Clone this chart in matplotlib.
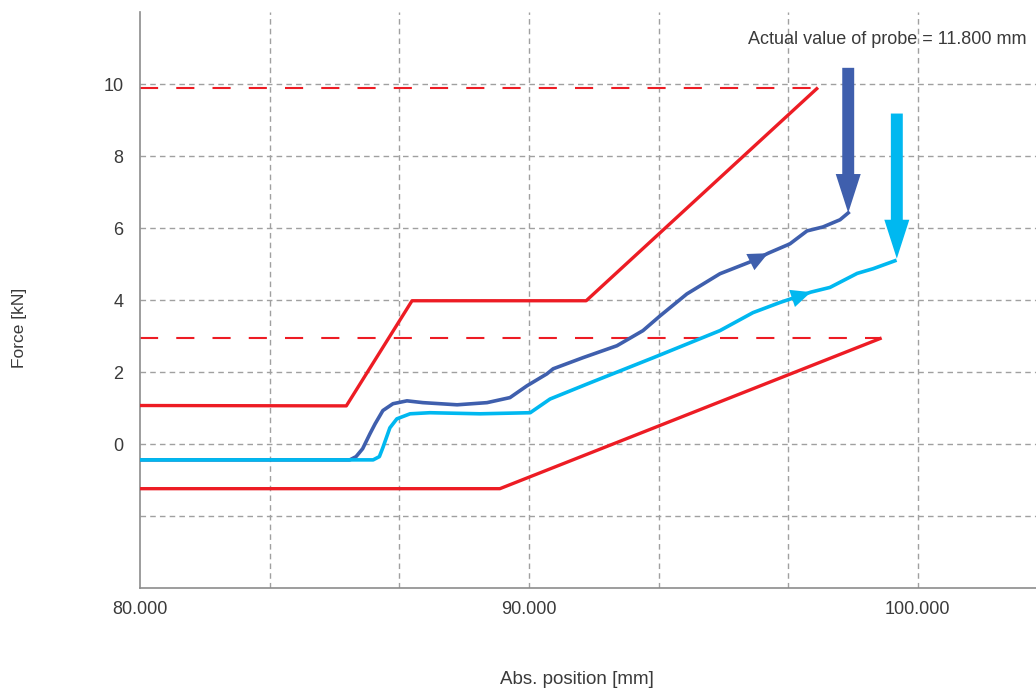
import matplotlib
matplotlib.use("Agg")
import matplotlib.pyplot as plt

plt.rcParams.update({"font.family": ["Liberation Sans", "DejaVu Sans"], "font.size": 13})

RED = "#ED1C24"
DARK_BLUE = "#3F5FAD"
LIGHT_BLUE = "#00B8F0"
GRID = "#A0A0A0"
TEXT = "#3A3A3A"

# upper and lower limit curves (red)
upper_x = [80.0, 85.3, 86.99, 91.47, 97.40]
upper_y = [1.07, 1.06, 3.98, 3.98, 9.87]
lower_x = [80.0, 89.25, 99.03]
lower_y = [-1.24, -1.24, 2.93]
upper_limit = 9.88
lower_limit = 2.95

# measured force curves
dark_x = [80.0, 85.39, 85.55, 85.72, 85.91, 86.04, 86.24, 86.50, 86.86, 87.27, 88.15,
          88.92, 89.51, 89.95, 90.46, 90.62, 91.39, 92.26, 92.93, 93.37, 94.06,
          94.91, 95.76, 96.15, 96.71, 97.15, 97.56, 98.00, 98.21]
dark_y = [-0.44, -0.44, -0.35, -0.13, 0.29, 0.56, 0.93, 1.12, 1.20, 1.15, 1.09,
          1.15, 1.29, 1.62, 1.95, 2.09, 2.40, 2.73, 3.15, 3.56, 4.17,
          4.73, 5.09, 5.30, 5.56, 5.92, 6.03, 6.23, 6.42]
light_x = [80.0, 85.99, 86.15, 86.24, 86.42, 86.60, 86.94, 87.45, 88.74, 90.03, 90.54,
           91.50, 93.20, 94.91, 95.76, 96.45, 97.25, 97.74, 98.44, 98.85, 99.41]
light_y = [-0.44, -0.44, -0.35, -0.10, 0.45, 0.70, 0.84, 0.87, 0.84, 0.87, 1.25,
           1.67, 2.40, 3.15, 3.65, 3.93, 4.22, 4.35, 4.74, 4.87, 5.09]

grid_x = [83.333, 86.667, 90.0, 93.333, 96.667, 100.0]
grid_y = [-2, 0, 2, 4, 6, 8, 10]
xtick_vals = [80, 90, 100]
xtick_labels = ["80.000", "90.000", "100.000"]
ytick_vals = [0, 2, 4, 6, 8, 10]

fig = plt.figure(figsize=(10.36, 6.91), dpi=100)
ax = fig.add_axes([0.1354, 0.149, 0.8646, 0.8336])
ax.set_xlim(80, 103.04)
ax.set_ylim(-4, 12)

for gx in grid_x:
    ax.axvline(gx, color=GRID, lw=1.0, ls=(0, (4, 3)), zorder=1)
for gy in grid_y:
    ax.axhline(gy, color=GRID, lw=1.0, ls=(0, (4, 3)), zorder=1)

ax.plot([80, upper_x[-1]], [upper_limit, upper_limit], color=RED, lw=1.5,
        dashes=(8.7, 8.7), zorder=2)
ax.plot([80, lower_x[-1]], [lower_limit, lower_limit], color=RED, lw=1.5,
        dashes=(8.7, 8.7), zorder=2)
ax.plot(upper_x, upper_y, color=RED, lw=2.4, zorder=3)
ax.plot(lower_x, lower_y, color=RED, lw=2.4, zorder=3)

ax.plot(dark_x, dark_y, color=DARK_BLUE, lw=2.6, zorder=4, solid_joinstyle="round")
ax.plot(light_x, light_y, color=LIGHT_BLUE, lw=2.6, zorder=4, solid_joinstyle="round")

# direction arrowheads on the curves
head = dict(arrowstyle="-|>,head_length=1.1,head_width=0.5", lw=0, shrinkA=0, shrinkB=0)
ax.annotate("", xy=(dark_x[23], dark_y[23]), xytext=(dark_x[22], dark_y[22]),
            arrowprops=dict(color=DARK_BLUE, **head), zorder=5)
ax.annotate("", xy=(light_x[16], light_y[16]), xytext=(light_x[15], light_y[15]),
            arrowprops=dict(color=LIGHT_BLUE, **head), zorder=5)

# big probe arrows
big = dict(width=8.6, headwidth=18, headlength=28, shrink=0, lw=0)
ax.annotate("", xy=(dark_x[-1], dark_y[-1]), xytext=(dark_x[-1], 10.45),
            arrowprops=dict(color=DARK_BLUE, **big), zorder=5)
ax.annotate("", xy=(light_x[-1] + 0.05, light_y[-1] + 0.06), xytext=(light_x[-1] + 0.05, 9.18),
            arrowprops=dict(color=LIGHT_BLUE, **big), zorder=5)

ax.text(102.8, 11.25, "Actual value of probe = 11.800 mm", ha="right", va="center",
        color=TEXT, fontsize=13)

for side in ["top", "right"]:
    ax.spines[side].set_visible(False)
for side in ["left", "bottom"]:
    ax.spines[side].set_color("#8C8C8C")
    ax.spines[side].set_linewidth(1.2)

ax.set_xticks(xtick_vals)
ax.set_xticklabels(xtick_labels)
ax.set_yticks(ytick_vals)
ax.tick_params(axis="x", length=0, pad=9, colors=TEXT, labelsize=13)
ax.tick_params(axis="y", length=0, pad=12, colors=TEXT, labelsize=13)

fig.text(20 / 1036, 1 - 328 / 691, "Force [kN]", rotation=90, ha="center", va="center",
         color=TEXT, fontsize=12.5)
fig.text(577 / 1036, 1 - 680 / 691, "Abs. position [mm]", ha="center", va="center",
         color=TEXT, fontsize=13.5)

fig.savefig("out.png", dpi=100)
